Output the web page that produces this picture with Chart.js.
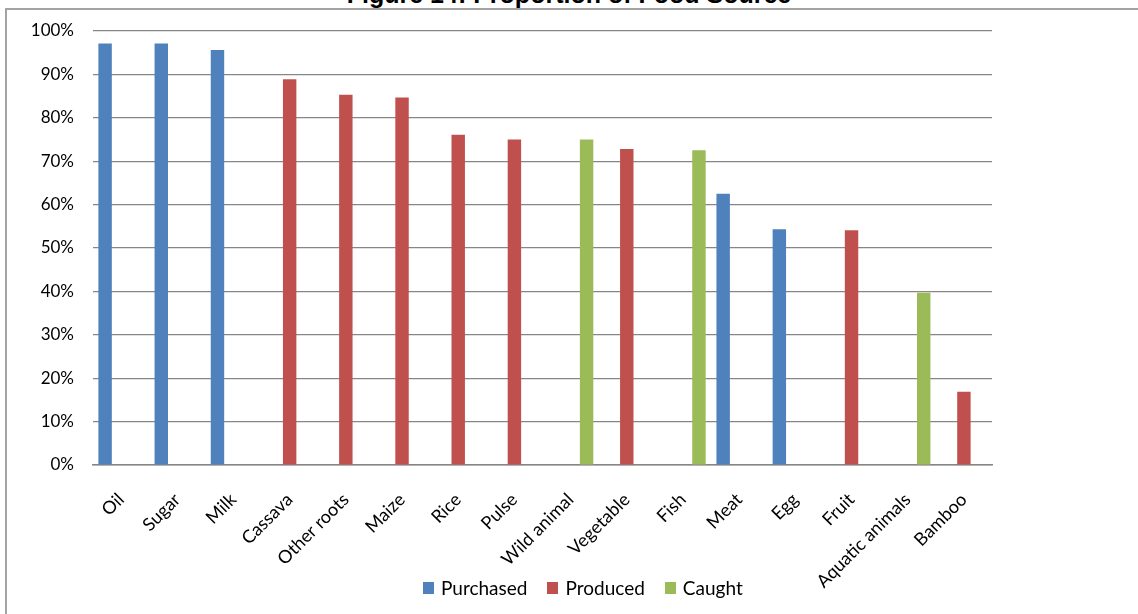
<!DOCTYPE html>
<html>
<head>
<meta charset="utf-8">
<script src="https://cdn.jsdelivr.net/npm/chart.js@4/dist/chart.umd.min.js"></script>
<style>
  html, body { margin: 0; padding: 0; background: #fff; overflow: hidden; }
  #wrap { position: relative; width: 1138px; height: 614px; }
  #frame {
    position: absolute; left: 5px; top: 8px; right: -4px; bottom: -4px;
    border-left: 2px solid #a3a3a3; border-top: 2px solid #a3a3a3;
  }
  #title {
    position: absolute; left: 0; width: 1138px; top: -18px;
    text-align: center; padding-left: 0; box-sizing: border-box;
    font: bold 25px "Liberation Sans", Arial, sans-serif; line-height: 25px; color: #000;
  }
  canvas { position: absolute; left: 0; top: 0; }
  #legend {
    position: absolute; left: 423px; top: 577px; display: flex; align-items: center;
    font: 19px Lato, sans-serif; color: #000; line-height: 22px;
  }
  #legend .item { display: flex; align-items: center; margin-right: 20px; }
  #legend .box { width: 11px; height: 12px; margin-right: 7px; }
</style>
</head>
<body>
<div id="wrap">
  <div id="frame"></div>
  <div id="title">Figure 14: Proportion of Food Source</div>
  <canvas id="foodChart" width="1138" height="614"></canvas>
  <div id="legend"></div>
</div>
<script>
// values, in percent
const categories = ['Oil', 'Sugar', 'Milk', 'Cassava', 'Other roots', 'Maize', 'Rice', 'Pulse',
    'Wild animal', 'Vegetable', 'Fish', 'Meat', 'Egg', 'Fruit', 'Aquatic animals', 'Bamboo'];
const purchased = [97.1, 97.1, 95.6, null, null, null, null, null, null, null, null, 62.5, 54.3, null, null, null];
const produced = [null, null, null, 88.9, 85.3, 84.7, 76.1, 75.0, null, 72.8, null, null, null, 54.1, null, 16.9];
const caught = [null, null, null, null, null, null, null, null, 75.0, null, 72.5, null, null, null, 39.7, null];
const yTicks = [0, 10, 20, 30, 40, 50, 60, 70, 80, 90, 100];

const chart = new Chart(document.getElementById('foodChart'), {
    type: 'bar',
    data: {
        labels: categories,
        datasets: [
            { label: 'Purchased', data: purchased, backgroundColor: '#4F81BD' },
            { label: 'Produced', data: produced, backgroundColor: '#C0504D' },
            { label: 'Caught', data: caught, backgroundColor: '#9BBB59' }
        ]
    },
    options: {
        responsive: false,
        animation: false,
        datasets: {
            bar: { categoryPercentage: 0.854, barPercentage: 0.84, skipNull: false }
        },
        layout: { padding: { left: 0, right: 146, top: 31, bottom: 0 } },
        scales: {
            x: {
                grid: { display: false, drawTicks: false },
                border: { display: true, color: '#868686', width: 1.5 },
                ticks: {
                    color: '#000',
                    font: { family: 'Lato', size: 18 },
                    minRotation: 45,
                    maxRotation: 45,
                    padding: 24,
                    autoSkip: false
                },
                // tall enough that long labels are not clipped
                afterFit(scale) { scale.height = 149; }
            },
            y: {
                min: 0,
                max: 100,
                afterBuildTicks(scale) { scale.ticks = yTicks.map(v => ({ value: v })); },
                grid: { color: '#868686', lineWidth: 1.2, drawTicks: false },
                border: { display: false },
                ticks: {
                    color: '#000',
                    font: { family: 'Lato', size: 17 },
                    padding: 19,
                    callback: v => v + '%'
                },
                afterFit(scale) { scale.width = 93; }
            }
        },
        plugins: {
            legend: { display: false },
            title: { display: false },
            tooltip: { enabled: false }
        }
    }
});

// legend built from the chart's datasets
const legendEl = document.getElementById('legend');
chart.data.datasets.forEach(ds => {
    const item = document.createElement('span');
    item.className = 'item';
    const box = document.createElement('span');
    box.className = 'box';
    box.style.background = ds.backgroundColor;
    const txt = document.createElement('span');
    txt.textContent = ds.label;
    item.appendChild(box);
    item.appendChild(txt);
    legendEl.appendChild(item);
});
</script>
</body>
</html>
